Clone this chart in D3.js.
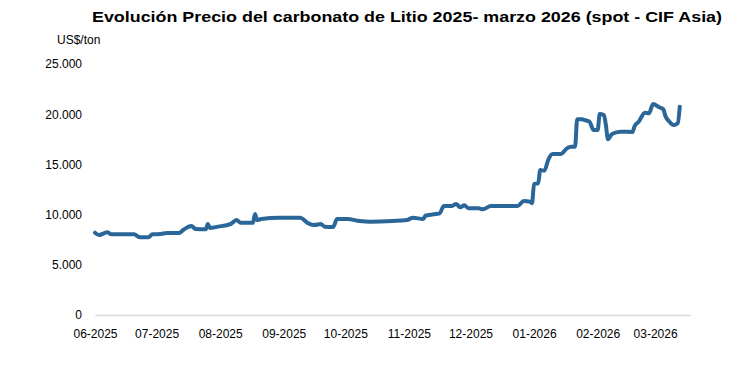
<!DOCTYPE html>
<html>
<head>
<meta charset="utf-8">
<script src="https://cdn.jsdelivr.net/npm/d3@7"></script>
<style>
    body { margin: 0; background: #fff; }
    text { font-family: "Liberation Sans", Arial, sans-serif; }
</style>
</head>
<body>
<script>
// Lithium carbonate spot price (CIF Asia), US$/ton.
var dates = [
    "2025-06-01", "2025-06-03", "2025-06-07", "2025-06-09", "2025-06-20",
    "2025-06-23", "2025-06-27", "2025-06-29", "2025-07-03", "2025-07-06",
    "2025-07-12", "2025-07-14", "2025-07-18", "2025-07-20", "2025-07-25",
    "2025-07-26", "2025-07-27", "2025-07-31", "2025-08-06", "2025-08-09",
    "2025-08-11", "2025-08-17", "2025-08-18", "2025-08-19", "2025-08-21",
    "2025-08-30", "2025-09-09", "2025-09-13", "2025-09-16", "2025-09-19",
    "2025-09-21", "2025-09-25", "2025-09-27", "2025-10-02", "2025-10-08",
    "2025-10-13", "2025-10-24", "2025-10-31", "2025-11-03", "2025-11-08",
    "2025-11-09", "2025-11-13", "2025-11-16", "2025-11-18", "2025-11-22",
    "2025-11-24", "2025-11-26", "2025-11-28", "2025-11-30", "2025-12-05",
    "2025-12-07", "2025-12-11", "2025-12-24", "2025-12-27", "2025-12-30",
    "2025-12-31", "2026-01-01", "2026-01-03", "2026-01-04", "2026-01-06",
    "2026-01-08", "2026-01-10", "2026-01-14", "2026-01-17", "2026-01-19",
    "2026-01-21", "2026-01-22", "2026-01-24", "2026-01-26", "2026-01-28",
    "2026-01-30", "2026-02-01", "2026-02-02", "2026-02-04", "2026-02-05",
    "2026-02-06", "2026-02-08", "2026-02-12", "2026-02-18", "2026-02-19",
    "2026-02-21", "2026-02-24", "2026-02-26", "2026-02-28", "2026-03-03",
    "2026-03-05", "2026-03-06", "2026-03-08", "2026-03-10", "2026-03-12",
    "2026-03-13"
];

var prices = [
    8200, 7970, 8240, 8040, 8040,
    7740, 7740, 8040, 8070, 8170,
    8170, 8470, 8860, 8570, 8540,
    9060, 8670, 8800, 9060, 9460,
    9190, 9190, 10060, 9460, 9560,
    9690, 9690, 9130, 8960, 9060,
    8800, 8760, 9560, 9560, 9360,
    9290, 9360, 9460, 9690, 9560,
    9890, 10030, 10130, 10860, 10860,
    11060, 10730, 10930, 10630, 10630,
    10530, 10860, 10860, 11360, 11290,
    11130, 13050, 13120, 14440, 14370,
    15510, 16040, 16040, 16600, 16770,
    16770, 19500, 19490, 19400, 19250,
    18430, 18430, 20020, 19920, 18920,
    17500, 18030, 18260, 18230, 18820,
    19250, 20150, 20090, 21020, 20690,
    20490, 19820, 19250, 18920, 19090,
    20750
];

var yTicks = [0, 5000, 10000, 15000, 20000, 25000];
var monthTicks = [
    "2025-06-01", "2025-07-01", "2025-08-01", "2025-09-01", "2025-10-01",
    "2025-11-01", "2025-12-01", "2026-01-01", "2026-02-01", "2026-03-01"
];

var titleText = "Evolución Precio del carbonato de Litio 2025- marzo 2026 " +
    "(spot - CIF Asia)";

var W = 753, H = 368;
var plot = {left: 95, right: 690, top: 64, bottom: 315};

var parseDate = d3.timeParse("%Y-%m-%d");
var data = dates.map(function (d, i) {
    return {date: parseDate(d), value: prices[i]};
});

var svg = d3.select("body").append("svg")
    .attr("width", W)
    .attr("height", H);

var xScale = d3.scaleTime()
    .domain([parseDate("2025-06-01"), parseDate("2026-03-18")])
    .range([plot.left, plot.right]);

var yScale = d3.scaleLinear()
    .domain([0, 25000])
    .range([plot.bottom, plot.top]);

// dotted thousands, e.g. 25.000
var fmt = d3.formatLocale({decimal: ",", thousands: ".", grouping: [3],
    currency: ["", ""]}).format(",d");

// x axis: light grey baseline, month labels under it
var xAxis = d3.axisBottom(xScale)
    .tickValues(monthTicks.map(parseDate))
    .tickFormat(d3.timeFormat("%m-%Y"))
    .tickSize(0)
    .tickPadding(14);

var gx = svg.append("g")
    .attr("transform", "translate(0," + plot.bottom + ")")
    .call(xAxis);
gx.select(".domain").attr("stroke", "#d9d9d9").attr("stroke-width", 1.5);
gx.selectAll("text")
    .attr("font-size", "12px")
    .attr("font-family", "Liberation Sans, Arial, sans-serif")
    .attr("fill", "#000");

// y axis: labels only
var yAxis = d3.axisLeft(yScale)
    .tickValues(yTicks)
    .tickFormat(fmt)
    .tickSize(0)
    .tickPadding(13);

var gy = svg.append("g")
    .attr("transform", "translate(" + plot.left + ",0)")
    .call(yAxis);
gy.select(".domain").remove();
gy.selectAll("text")
    .attr("font-size", "12px")
    .attr("font-family", "Liberation Sans, Arial, sans-serif")
    .attr("fill", "#000");

// price line
var line = d3.line()
    .x(function (d) { return xScale(d.date); })
    .y(function (d) { return yScale(d.value); })
    .curve(d3.curveMonotoneX);

svg.append("path")
    .datum(data)
    .attr("fill", "none")
    .attr("stroke", "#2a6698")
    .attr("stroke-width", 4)
    .attr("stroke-linejoin", "round")
    .attr("stroke-linecap", "round")
    .attr("d", line);

// title and unit
svg.append("text")
    .attr("x", 407)
    .attr("y", 22)
    .attr("text-anchor", "middle")
    .attr("font-size", "15px")
    .attr("font-weight", "bold")
    .attr("textLength", 630)
    .attr("lengthAdjust", "spacingAndGlyphs")
    .text(titleText);

svg.append("text")
    .attr("x", 57)
    .attr("y", 44)
    .attr("font-size", "12px")
    .text("US$/ton");
</script>
</body>
</html>
